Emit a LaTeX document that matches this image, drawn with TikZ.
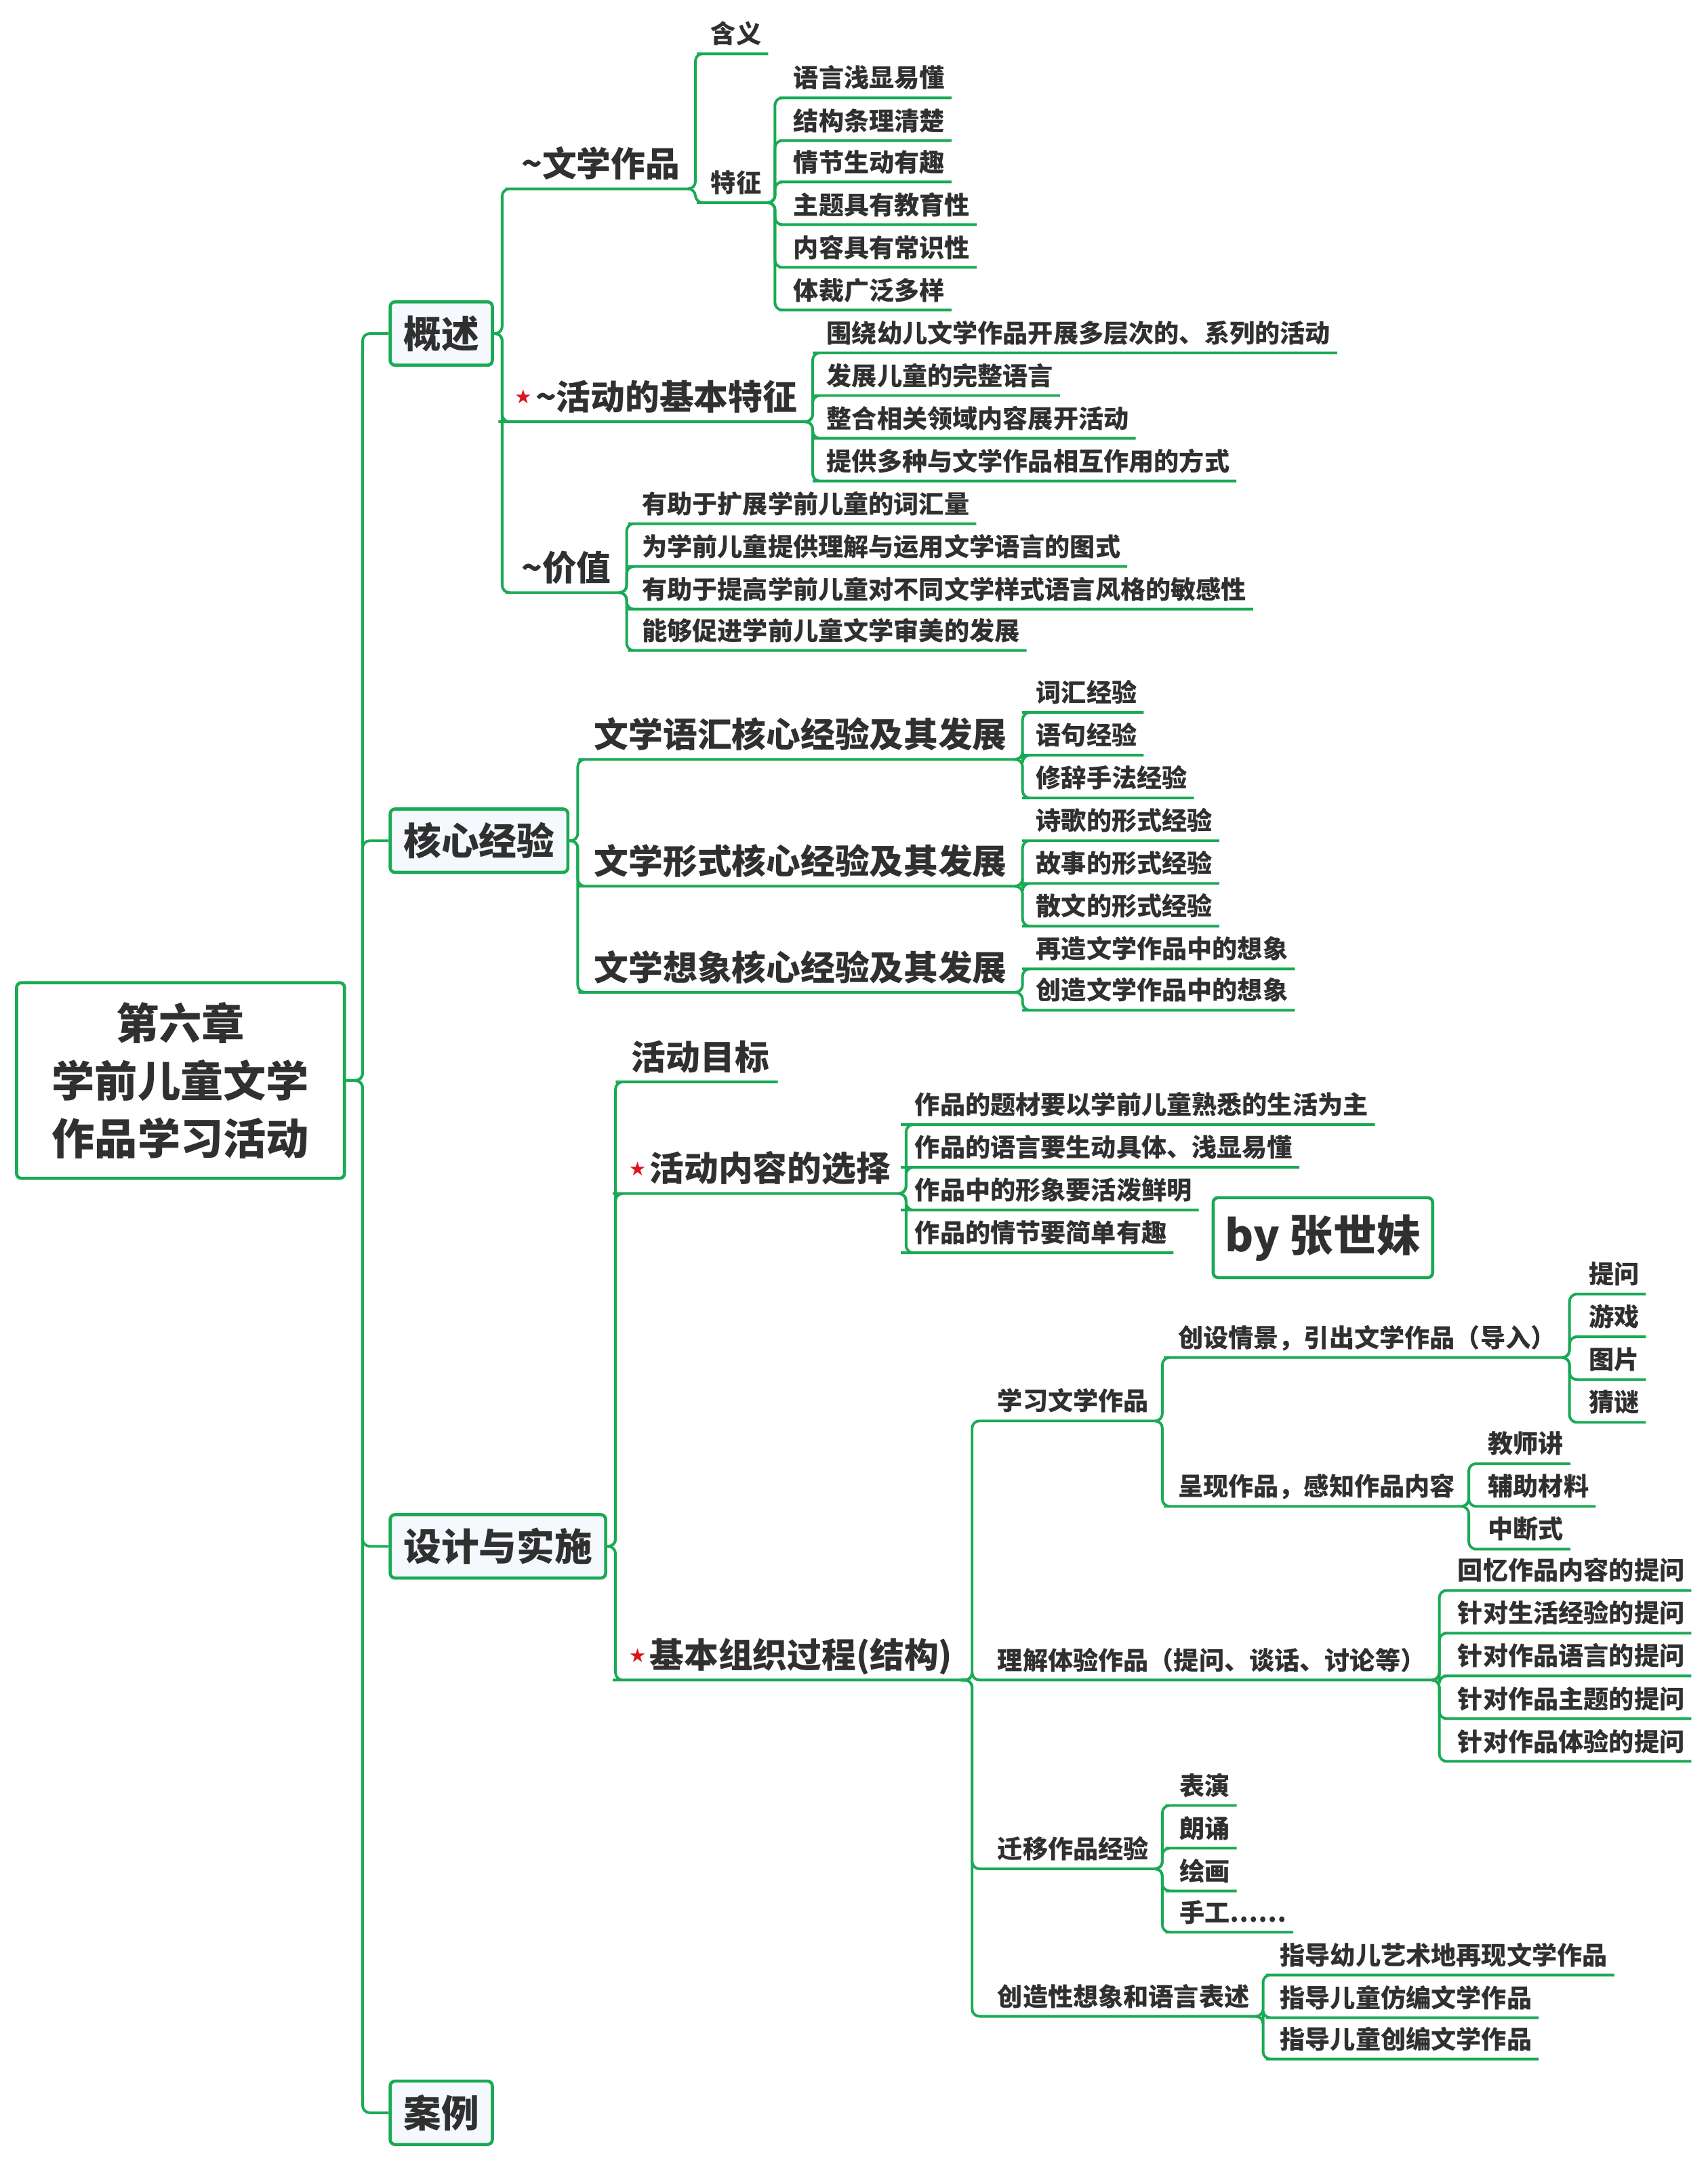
\documentclass[tikz,border=0pt]{standalone}
\usepackage{fontspec}
\setmainfont{Noto Sans CJK SC}
\newfontfamily\starfont{DejaVu Sans}
\definecolor{mapgreen}{RGB}{26,170,85}
\definecolor{ink}{RGB}{48,48,48}
\definecolor{boxfill}{RGB}{245,248,253}
\definecolor{starred}{RGB}{220,20,30}
\newcommand\hotmark{\raisebox{2.4pt}{\starfont\fontsize{8pt}{8pt}\selectfont\color{starred}★}\hspace{1.5pt}}
\newcommand\tld{\textasciitilde}

\begin{document}
\begin{tikzpicture}[x=0.02cm, y=-0.02cm,
    link/.style={draw=mapgreen, line width=1.1pt, rounded corners=3pt},
    rootbox/.style={draw=mapgreen, fill=white, line width=1.3pt, rounded corners=2pt, text=ink,
        align=center, minimum width=4.76cm, minimum height=2.84cm,
        font=\bfseries\fontsize{17.7pt}{23.9pt}\selectfont},
    mainbox/.style={draw=mapgreen, fill=boxfill, line width=1.3pt, rounded corners=2pt, text=ink,
        anchor=west, minimum height=0.92cm, inner xsep=5.5pt,
        font=\bfseries\fontsize{15.6pt}{18pt}\selectfont},
    signbox/.style={draw=mapgreen, fill=white, line width=1.3pt, rounded corners=2pt, text=ink,
        minimum height=1.16cm, inner xsep=5pt,
        font=\bfseries\fontsize{18pt}{20pt}\selectfont},
    subtopic/.style={anchor=south west, text=ink, inner xsep=3.4pt, inner ysep=3.1pt,
        text height=12.5pt, text depth=1.7pt,
        font=\bfseries\fontsize{14.2pt}{16pt}\selectfont},
    leaf/.style={anchor=south west, text=ink, inner xsep=2.6pt, inner ysep=2.9pt,
        text height=9pt, text depth=1.2pt,
        font=\bfseries\fontsize{10.4pt}{12pt}\selectfont}]
\useasboundingbox (0,0) rectangle (1239,1568);

% root and main branches
\node[rootbox] (root) at (131,784) {第六章\\学前儿童文学\\作品学习活动};
\node[mainbox] (gs) at (282,242) {概述};
\node[mainbox] (hx) at (282,610) {核心经验};
\node[mainbox] (sj) at (282,1122) {设计与实施};
\node[mainbox] (al) at (282,1533) {案例};
\node[signbox] (sign) at (960,898) {by 张世妹};

\foreach \m in {gs,hx,sj,al}
    \draw[link] (root.east) -- ++(12,0) |- (\m.west);

% 概述
\node[subtopic] (wx) at (372,137) {\tld 文学作品};
\node[subtopic] (hd) at (367,306) {\hotmark\tld 活动的基本特征};
\node[subtopic] (jz) at (372,430) {\tld 价值};
\foreach \c in {wx,hd,jz}
    \draw[link] (gs.east) -- ++(6,0) |- (\c.south west) -- (\c.south east);

\node[leaf] (hy) at (511,39) {含义};
\node[leaf] (tz) at (511,147) {特征};
\foreach \c in {hy,tz}
    \draw[link] (wx.south east) -- ++(5,0) |- (\c.south west) -- (\c.south east);

\node[leaf] (tz1) at (571,71) {语言浅显易懂};
\node[leaf] (tz2) at (571,102) {结构条理清楚};
\node[leaf] (tz3) at (571,132) {情节生动有趣};
\node[leaf] (tz4) at (571,163) {主题具有教育性};
\node[leaf] (tz5) at (571,194) {内容具有常识性};
\node[leaf] (tz6) at (571,225) {体裁广泛多样};
\foreach \c in {tz1,tz2,tz3,tz4,tz5,tz6}
    \draw[link] (tz.south east) -- ++(5,0) |- (\c.south west) -- (\c.south east);

\node[leaf] (hd1) at (595,256) {围绕幼儿文学作品开展多层次的、系列的活动};
\node[leaf] (hd2) at (595,287) {发展儿童的完整语言};
\node[leaf] (hd3) at (595,318) {整合相关领域内容展开活动};
\node[leaf] (hd4) at (595,349) {提供多种与文学作品相互作用的方式};
\foreach \c in {hd1,hd2,hd3,hd4}
    \draw[link] (hd.south east) -- ++(5,0) |- (\c.south west) -- (\c.south east);

\node[leaf] (jz1) at (461,380) {有助于扩展学前儿童的词汇量};
\node[leaf] (jz2) at (461,411) {为学前儿童提供理解与运用文学语言的图式};
\node[leaf] (jz3) at (461,442) {有助于提高学前儿童对不同文学样式语言风格的敏感性};
\node[leaf] (jz4) at (461,472) {能够促进学前儿童文学审美的发展};
\foreach \c in {jz1,jz2,jz3,jz4}
    \draw[link] (jz.south east) -- ++(5,0) |- (\c.south west) -- (\c.south east);

% 核心经验
\node[subtopic] (yh) at (425,551) {文学语汇核心经验及其发展};
\node[subtopic] (xs) at (425,643) {文学形式核心经验及其发展};
\node[subtopic] (xy) at (425,720) {文学想象核心经验及其发展};
\foreach \c in {yh,xs,xy}
    \draw[link] (hx.east) -- ++(6,0) |- (\c.south west) -- (\c.south east);

\node[leaf] (yh1) at (747,517) {词汇经验};
\node[leaf] (yh2) at (747,548) {语句经验};
\node[leaf] (yh3) at (747,579) {修辞手法经验};
\foreach \c in {yh1,yh2,yh3}
    \draw[link] (yh.south east) -- ++(5,0) |- (\c.south west) -- (\c.south east);

\node[leaf] (xs1) at (747,610) {诗歌的形式经验};
\node[leaf] (xs2) at (747,641) {故事的形式经验};
\node[leaf] (xs3) at (747,672) {散文的形式经验};
\foreach \c in {xs1,xs2,xs3}
    \draw[link] (xs.south east) -- ++(5,0) |- (\c.south west) -- (\c.south east);

\node[leaf] (xy1) at (747,703) {再造文学作品中的想象};
\node[leaf] (xy2) at (747,733) {创造文学作品中的想象};
\foreach \c in {xy1,xy2}
    \draw[link] (xy.south east) -- ++(5,0) |- (\c.south west) -- (\c.south east);

% 设计与实施
\node[subtopic] (mb) at (452,785) {活动目标};
\node[subtopic] (nr) at (450,866) {\hotmark 活动内容的选择};
\node[subtopic] (gc) at (450,1219) {\hotmark 基本组织过程(结构)};
\foreach \c in {mb,nr,gc}
    \draw[link] (sj.east) -- ++(6,0) |- (\c.south west) -- (\c.south east);

\node[leaf] (nr1) at (659,816) {作品的题材要以学前儿童熟悉的生活为主};
\node[leaf] (nr2) at (659,847) {作品的语言要生动具体、浅显易懂};
\node[leaf] (nr3) at (659,878) {作品中的形象要活泼鲜明};
\node[leaf] (nr4) at (659,909) {作品的情节要简单有趣};
\foreach \c in {nr1,nr2,nr3,nr4}
    \draw[link] (nr.south east) -- ++(5,0) |- (\c.south west) -- (\c.south east);

\node[leaf] (xw) at (719,1031) {学习文学作品};
\node[leaf] (lj) at (719,1219) {理解体验作品（提问、谈话、讨论等）};
\node[leaf] (qy) at (719,1356) {迁移作品经验};
\node[leaf] (cz) at (719,1463) {创造性想象和语言表述};
\foreach \c in {xw,lj,qy,cz}
    \draw[link] (gc.south east) -- ++(8,0) |- (\c.south west) -- (\c.south east);

\node[leaf] (cs) at (850,985) {创设情景，引出文学作品（导入）};
\node[leaf] (cx) at (850,1093) {呈现作品，感知作品内容};
\foreach \c in {cs,cx}
    \draw[link] (xw.south east) -- ++(5,0) |- (\c.south west) -- (\c.south east);

\node[leaf] (cs1) at (1148,939) {提问};
\node[leaf] (cs2) at (1148,970) {游戏};
\node[leaf] (cs3) at (1148,1001) {图片};
\node[leaf] (cs4) at (1148,1032) {猜谜};
\foreach \c in {cs1,cs2,cs3,cs4}
    \draw[link] (cs.south east) -- ++(5,0) |- (\c.south west) -- (\c.south east);

\node[leaf] (cx1) at (1075,1062) {教师讲};
\node[leaf] (cx2) at (1075,1093) {辅助材料};
\node[leaf] (cx3) at (1075,1124) {中断式};
\foreach \c in {cx1,cx2,cx3}
    \draw[link] (cx.south east) -- ++(5,0) |- (\c.south west) -- (\c.south east);

\node[leaf] (lj1) at (1053,1154) {回忆作品内容的提问};
\node[leaf] (lj2) at (1053,1185) {针对生活经验的提问};
\node[leaf] (lj3) at (1053,1216) {针对作品语言的提问};
\node[leaf] (lj4) at (1053,1247) {针对作品主题的提问};
\node[leaf] (lj5) at (1053,1278) {针对作品体验的提问};
\foreach \c in {lj1,lj2,lj3,lj4,lj5}
    \draw[link] (lj.south east) -- ++(5,0) |- (\c.south west) -- (\c.south east);

\node[leaf] (qy1) at (851,1310) {表演};
\node[leaf] (qy2) at (851,1341) {朗诵};
\node[leaf] (qy3) at (851,1372) {绘画};
\node[leaf] (qy4) at (851,1402) {手工……};
\foreach \c in {qy1,qy2,qy3,qy4}
    \draw[link] (qy.south east) -- ++(5,0) |- (\c.south west) -- (\c.south east);

\node[leaf] (cz1) at (924,1433) {指导幼儿艺术地再现文学作品};
\node[leaf] (cz2) at (924,1464) {指导儿童仿编文学作品};
\node[leaf] (cz3) at (924,1494) {指导儿童创编文学作品};
\foreach \c in {cz1,cz2,cz3}
    \draw[link] (cz.south east) -- ++(5,0) |- (\c.south west) -- (\c.south east);
\end{tikzpicture}
\end{document}
